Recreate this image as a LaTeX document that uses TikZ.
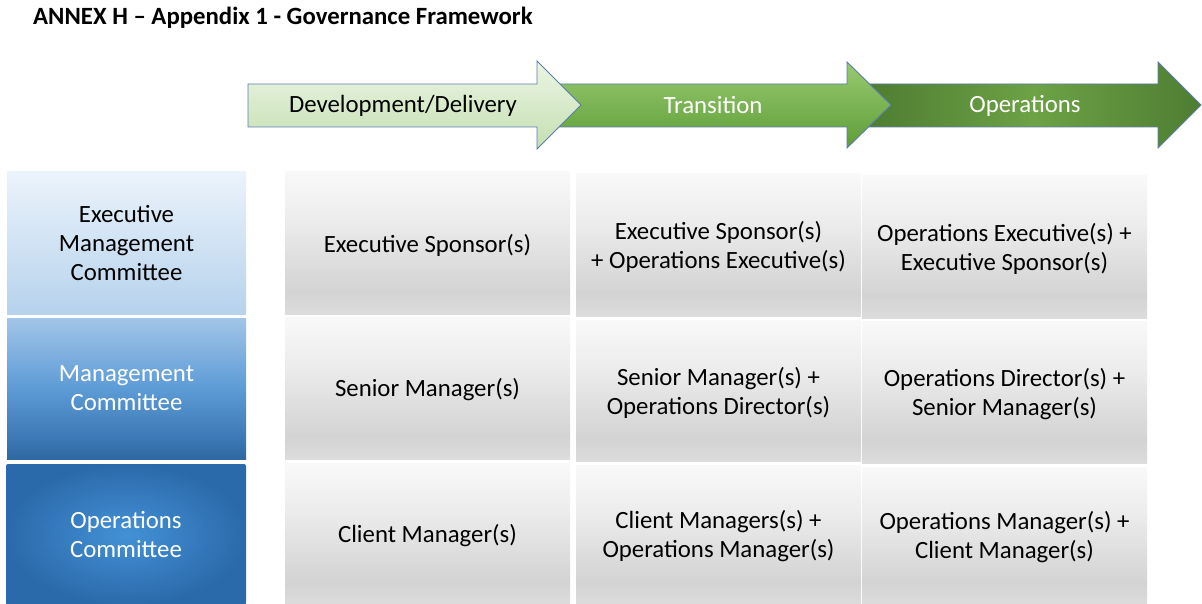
\documentclass[tikz,border=0pt]{standalone}
\usepackage{fontspec}
\setmainfont{Carlito}
\definecolor{gA}{HTML}{F9F9F9}
\definecolor{gB}{HTML}{ECECEC}
\definecolor{gC}{HTML}{D3D3D3}
\definecolor{gD}{HTML}{DCDCDC}
\definecolor{bA}{HTML}{A2C5E8}
\definecolor{bB}{HTML}{5D9BD6}
\definecolor{bC}{HTML}{3B78B5}
\definecolor{bD}{HTML}{2F68A3}
\definecolor{lbTop}{HTML}{EBF3FB}
\definecolor{lbBot}{HTML}{B6D2EC}
\definecolor{rbIn}{HTML}{4391D6}
\definecolor{rbOut}{HTML}{2B6AAA}
\definecolor{aOne}{HTML}{EBF5E4}
\definecolor{aOneB}{HTML}{C4DFB1}
\definecolor{aTwo}{HTML}{98CA70}
\definecolor{aTwoB}{HTML}{5E9D37}
\definecolor{aThE}{HTML}{4E7D31}
\definecolor{aThM}{HTML}{6DA246}
\definecolor{edge}{HTML}{5A7DAD}
\pgfdeclareverticalshading{cellgray}{100bp}{color(0bp)=(gD); color(25bp)=(gD); color(33bp)=(gC); color(58bp)=(gB); color(75bp)=(gA); color(100bp)=(gA)}
\pgfdeclareverticalshading{midblue}{100bp}{color(0bp)=(bD); color(25bp)=(bD); color(32bp)=(bC); color(50bp)=(bB); color(75bp)=(bA); color(100bp)=(bA)}
\begin{document}
\begin{tikzpicture}[x=1pt,y=-1pt,
  txt/.style={font=\fontsize{24.8}{29}\selectfont, align=center, inner sep=0pt},
  cell/.style={shading=cellgray, inner sep=0pt},
  celltxt/.style={txt, text=black},
  lefta/.style={txt, shading=axis, top color=lbTop, bottom color=lbBot, text=black},
  leftb/.style={txt, shading=midblue, text=white},
  leftc/.style={txt, shading=radial, inner color=rbIn, outer color=rbOut, rounded corners=2pt, text=white},
  phase/.style={draw=edge, line width=0.9pt},
  phasetxt/.style={font=\fontsize{24.8}{29}\selectfont}]
\useasboundingbox (0,0) rectangle (1202,604);
\node[anchor=west, inner sep=0pt, font=\bfseries\fontsize{24.8}{29}\selectfont] (title) at (33,18) {ANNEX H – Appendix 1 - Governance Framework};
% phase arrows
\draw[phase, left color=aThE, right color=aThE, middle color=aThM]
  (868,84) -- (1158,84) -- (1158,62) -- (1201,105) -- (1158,148) -- (1158,127) -- (868,127) -- cycle;
\draw[phase, top color=aTwo, bottom color=aTwoB]
  (558,84) -- (847,84) -- (847,62) -- (891,105) -- (847,148) -- (847,127) -- (558,127) -- cycle;
\draw[phase, top color=aOne, bottom color=aOneB]
  (248,84) -- (537,84) -- (537,61) -- (581,105) -- (537,149) -- (537,127) -- (248,127) -- cycle;
\node[phasetxt, text=black] (p1) at (403,106) {Development/Delivery};
\node[phasetxt, text=white] (p2) at (713,105) {Transition};
\node[phasetxt, text=white] (p3) at (1025,106) {Operations};
% left column
\node[lefta, minimum width=239pt, minimum height=142pt] (l1) at (126.5,243) {Executive\\Management\\Committee};
\node[leftb, minimum width=239pt, minimum height=141pt] (l2) at (126.5,388.5) {Management\\Committee};
\node[leftc, minimum width=240pt, minimum height=141pt] (l3) at (126,534.5) {Operations\\Committee};
% grid boxes
\node[cell, minimum width=285pt, minimum height=142pt] (c11) at (427.5,243) {};
\node[cell, minimum width=285pt, minimum height=142pt] (c21) at (427.5,388) {};
\node[cell, minimum width=285pt, minimum height=141pt] (c31) at (427.5,533.5) {};
\node[cell, minimum width=285pt, minimum height=142pt] (c12) at (718.5,245) {};
\node[cell, minimum width=285pt, minimum height=141pt] (c22) at (718.5,390.5) {};
\node[cell, minimum width=285pt, minimum height=139pt] (c32) at (718.5,534.5) {};
\node[cell, minimum width=285pt, minimum height=142pt] (c13) at (1004.5,247) {};
\node[cell, minimum width=285pt, minimum height=142pt] (c23) at (1004.5,392) {};
\node[cell, minimum width=285pt, minimum height=137pt] (c33) at (1004.5,535.5) {};
% grid texts
\node[celltxt] (t11) at ([yshift=-2pt]c11.center) {Executive Sponsor(s)};
\node[celltxt] (t21) at ([yshift=-2pt]c21.center) {Senior Manager(s)};
\node[celltxt] (t31) at ([yshift=-2pt]c31.center) {Client Manager(s)};
\node[celltxt] (t12) at ([yshift=-2pt]c12.center) {Executive Sponsor(s)\\+ Operations Executive(s)};
\node[celltxt] (t22) at ([yshift=-2pt]c22.center) {Senior Manager(s) +\\Operations Director(s)};
\node[celltxt] (t32) at ([yshift=-2pt]c32.center) {Client Managers(s) +\\Operations Manager(s)};
\node[celltxt] (t13) at ([yshift=-2pt]c13.center) {Operations Executive(s) +\\Executive Sponsor(s)};
\node[celltxt] (t23) at ([yshift=-2pt]c23.center) {Operations Director(s) +\\Senior Manager(s)};
\node[celltxt] (t33) at ([yshift=-2pt]c33.center) {Operations Manager(s) +\\Client Manager(s)};
\end{tikzpicture}
\end{document}
